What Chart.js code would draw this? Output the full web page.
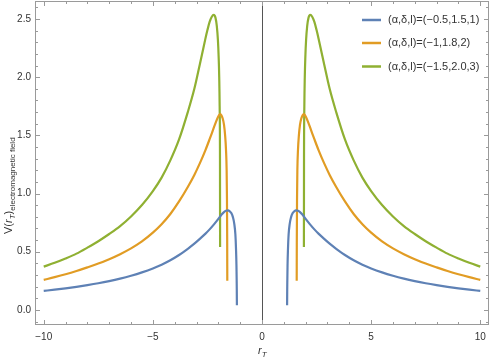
<!DOCTYPE html>
<html>
<head>
<meta charset="utf-8">
<script src="https://cdn.jsdelivr.net/npm/chart.js@4.4.0/dist/chart.umd.min.js"></script>
<style>
  html, body { margin: 0; padding: 0; background: #fff; }
  #graph { width: 491px; height: 360px; }
</style>
</head>
<body>
<div id="graph"><canvas id="grafico"></canvas></div>
<script>
// curvas (rama izquierda y rama derecha)
var xAzulIzq = [-10.0, -9.5, -9.0, -8.5, -8.0, -7.5, -7.0, -6.5, -6.0, -5.5, -5.0, -4.6, -4.2, -3.8, -3.4, -3.1, -2.85, -2.6, -2.4, -2.2, -2.0, -1.85, -1.73, -1.65, -1.56, -1.48, -1.40, -1.33, -1.27, -1.22, -1.19, -1.17, -1.16, -1.155, -1.15];
var yAzulIzq = [0.163, 0.1735, 0.185, 0.198, 0.2125, 0.2285, 0.247, 0.2685, 0.2935, 0.3225, 0.3565, 0.3885, 0.4265, 0.4715, 0.525, 0.569, 0.61, 0.653, 0.692, 0.735, 0.782, 0.82, 0.843, 0.853, 0.856, 0.848, 0.83, 0.795, 0.74, 0.65, 0.52, 0.38, 0.25, 0.17, 0.04];
var xAzulDer = [1.15, 1.155, 1.16, 1.17, 1.19, 1.22, 1.27, 1.33, 1.40, 1.48, 1.56, 1.65, 1.73, 1.85, 2.0, 2.2, 2.4, 2.6, 2.85, 3.1, 3.4, 3.8, 4.2, 4.6, 5.0, 5.5, 6.0, 6.5, 7.0, 7.5, 8.0, 8.5, 9.0, 9.5, 10.0];
var yAzulDer = [0.04, 0.17, 0.25, 0.38, 0.52, 0.65, 0.74, 0.795, 0.83, 0.848, 0.856, 0.853, 0.843, 0.82, 0.782, 0.735, 0.692, 0.653, 0.61, 0.569, 0.525, 0.4715, 0.4265, 0.3885, 0.3565, 0.3225, 0.2935, 0.2685, 0.247, 0.2285, 0.2125, 0.198, 0.185, 0.1735, 0.163];

var xNaranjaIzq = [-10.0, -9.5, -9.0, -8.5, -8.0, -7.5, -7.0, -6.5, -6.0, -5.5, -5.0, -4.6, -4.2, -3.8, -3.4, -3.1, -2.85, -2.6, -2.4, -2.3, -2.2, -2.1, -2.02, -1.96, -1.91, -1.86, -1.80, -1.74, -1.69, -1.65, -1.62, -1.605, -1.595, -1.59];
var yNaranjaIzq = [0.258, 0.281, 0.306, 0.334, 0.365, 0.398, 0.436, 0.479, 0.529, 0.589, 0.664, 0.736, 0.824, 0.932, 1.056, 1.16, 1.259, 1.369, 1.467, 1.518, 1.57, 1.62, 1.655, 1.675, 1.682, 1.672, 1.645, 1.59, 1.5, 1.38, 1.2, 0.95, 0.6, 0.25];
var xNaranjaDer = [1.59, 1.595, 1.605, 1.62, 1.65, 1.69, 1.74, 1.80, 1.86, 1.91, 1.96, 2.02, 2.1, 2.2, 2.3, 2.4, 2.6, 2.85, 3.1, 3.4, 3.8, 4.2, 4.6, 5.0, 5.5, 6.0, 6.5, 7.0, 7.5, 8.0, 8.5, 9.0, 9.5, 10.0];
var yNaranjaDer = [0.25, 0.6, 0.95, 1.2, 1.38, 1.5, 1.59, 1.645, 1.672, 1.682, 1.675, 1.655, 1.62, 1.57, 1.518, 1.467, 1.369, 1.259, 1.16, 1.056, 0.932, 0.824, 0.736, 0.664, 0.589, 0.529, 0.479, 0.436, 0.398, 0.365, 0.334, 0.306, 0.281, 0.258];

var xVerdeIzq = [-10.0, -9.5, -9.0, -8.5, -8.0, -7.5, -7.0, -6.5, -6.0, -5.5, -5.0, -4.6, -4.2, -3.8, -3.4, -3.1, -2.85, -2.75, -2.6, -2.5, -2.4, -2.3, -2.21, -2.13, -2.07, -2.02, -1.985, -1.96, -1.94, -1.925, -1.92];
var yVerdeIzq = [0.372, 0.405, 0.442, 0.4835, 0.535, 0.59, 0.652, 0.72, 0.803, 0.901, 1.021, 1.137, 1.285, 1.465, 1.70, 1.90, 2.11, 2.195, 2.325, 2.405, 2.475, 2.52, 2.535, 2.51, 2.44, 2.32, 2.17, 2.0, 1.75, 1.3, 0.54];
var xVerdeDer = [1.92, 1.925, 1.94, 1.96, 1.985, 2.02, 2.07, 2.13, 2.21, 2.3, 2.4, 2.5, 2.6, 2.75, 2.85, 3.1, 3.4, 3.8, 4.2, 4.6, 5.0, 5.5, 6.0, 6.5, 7.0, 7.5, 8.0, 8.5, 9.0, 9.5, 10.0];
var yVerdeDer = [0.54, 1.3, 1.75, 2.0, 2.17, 2.32, 2.44, 2.51, 2.535, 2.52, 2.475, 2.405, 2.325, 2.195, 2.11, 1.90, 1.70, 1.465, 1.285, 1.137, 1.021, 0.901, 0.803, 0.72, 0.652, 0.59, 0.535, 0.4835, 0.442, 0.405, 0.372];

var etiquetas = ['(\u03b1,\u03b4,l)=(\u22120.5,1.5,1)', '(\u03b1,\u03b4,l)=(\u22121,1.8,2)', '(\u03b1,\u03b4,l)=(\u22121.5,2.0,3)'];
var colores = ['#5E81B5', '#E19C24', '#8FB032'];
var xTicks = [-10, -5, 0, 5, 10];
var yTicks = [0.0, 0.5, 1.0, 1.5, 2.0, 2.5];

function puntos(xi, yi, xd, yd) {
  var d = [];
  for (var i = 0; i < xi.length; i++) d.push({x: xi[i], y: yi[i]});
  d.push({x: 0, y: null});
  for (var j = 0; j < xd.length; j++) d.push({x: xd[j], y: yd[j]});
  return d;
}

function serie(n, datos) {
  return {
    label: etiquetas[n],
    data: datos,
    borderColor: colores[n],
    backgroundColor: colores[n],
    borderWidth: 2.2,
    pointRadius: 0,
    fill: false,
    spanGaps: false,
    cubicInterpolationMode: 'monotone'
  };
}

function menos(v) {
  return v < 0 ? '\u2212' + Math.abs(v) : String(v);
}

// texto r_T con subindice
function textoR(ctx, x, y, tam) {
  ctx.font = 'italic ' + tam + 'px "Liberation Sans", Arial, sans-serif';
  ctx.fillText('r', x, y);
  x += ctx.measureText('r').width;
  ctx.font = 'italic ' + Math.round(tam * 0.72) + 'px "Liberation Sans", Arial, sans-serif';
  ctx.fillText('T', x, y + tam * 0.25);
  x += ctx.measureText('T').width;
  return x;
}

var marco = {
  id: 'marco',
  beforeDatasetsDraw: function(chart) {
    var ctx = chart.ctx, a = chart.chartArea;
    var sx = chart.scales.x, sy = chart.scales.y;
    ctx.save();
    // eje vertical en x = 0
    ctx.strokeStyle = '#555';
    ctx.lineWidth = 1;
    var x0 = Math.round(sx.getPixelForValue(0)) + 0.5;
    ctx.beginPath(); ctx.moveTo(x0, a.top); ctx.lineTo(x0, a.bottom); ctx.stroke();
    // marco y marcas
    ctx.strokeStyle = '#9a9a9a';
    ctx.strokeRect(a.left + 0.5, a.top + 0.5, a.right - a.left - 1, a.bottom - a.top - 1);
    ctx.beginPath();
    for (var v = -10; v <= 10; v++) {
      var px = Math.round(sx.getPixelForValue(v)) + 0.5;
      var l = (v % 5 === 0) ? 5 : 3;
      ctx.moveTo(px, a.bottom); ctx.lineTo(px, a.bottom - l);
      ctx.moveTo(px, a.top); ctx.lineTo(px, a.top + l);
    }
    for (var k = -1; k <= 26; k++) {
      var py = Math.round(sy.getPixelForValue(k / 10)) + 0.5;
      var m = (k % 5 === 0) ? 5 : 3;
      ctx.moveTo(a.left, py); ctx.lineTo(a.left + m, py);
      ctx.moveTo(a.right, py); ctx.lineTo(a.right - m, py);
    }
    ctx.stroke();
    ctx.restore();
  },
  afterDraw: function(chart) {
    var ctx = chart.ctx;
    ctx.save();
    // leyenda
    var filas = [20, 43, 66.5];
    ctx.textBaseline = 'middle';
    for (var i = 0; i < etiquetas.length; i++) {
      ctx.strokeStyle = colores[i];
      ctx.lineWidth = 2.5;
      ctx.beginPath(); ctx.moveTo(362, filas[i]); ctx.lineTo(381, filas[i]); ctx.stroke();
      ctx.fillStyle = '#333';
      ctx.font = '11px "Liberation Sans", Arial, sans-serif';
      ctx.fillText(etiquetas[i], 388, filas[i]);
    }
    // titulo eje x
    ctx.fillStyle = '#333';
    ctx.textBaseline = 'alphabetic';
    textoR(ctx, 258, 354, 11);
    // titulo eje y
    ctx.translate(12, 234);
    ctx.rotate(-Math.PI / 2);
    ctx.font = '11px "Liberation Sans", Arial, sans-serif';
    var x = 0;
    ctx.fillText('V(', x, 0); x += ctx.measureText('V(').width;
    x = textoR(ctx, x, 0, 11);
    ctx.font = '11px "Liberation Sans", Arial, sans-serif';
    ctx.fillText(')', x, 0); x += ctx.measureText(')').width;
    ctx.font = '8px "Liberation Sans", Arial, sans-serif';
    ctx.fillText('electromagnetic field', x, 3);
    ctx.restore();
  }
};

var contexto = document.getElementById('grafico').getContext('2d');
var chart = new Chart(contexto, {
  type: 'line',
  data: {
    datasets: [
      serie(0, puntos(xAzulIzq, yAzulIzq, xAzulDer, yAzulDer)),
      serie(1, puntos(xNaranjaIzq, yNaranjaIzq, xNaranjaDer, yNaranjaDer)),
      serie(2, puntos(xVerdeIzq, yVerdeIzq, xVerdeDer, yVerdeDer))
    ]
  },
  options: {
    responsive: true,
    maintainAspectRatio: false,
    animation: false,
    devicePixelRatio: 1,
    layout: { padding: { top: 1, right: 2, left: 0, bottom: 0 } },
    plugins: { legend: { display: false }, tooltip: { enabled: false } },
    scales: {
      x: {
        type: 'linear', min: -10.4, max: 10.4,
        grid: { display: false, drawTicks: false },
        border: { display: false },
        ticks: {
          autoSkip: false, maxRotation: 0, padding: 6, color: '#333',
          font: { size: 10, family: '"Liberation Sans", Arial, sans-serif' },
          callback: function(v) { return menos(v); }
        },
        afterBuildTicks: function(s) { s.ticks = xTicks.map(function(v) { return {value: v}; }); },
        afterFit: function(s) { s.height = 35; s.paddingLeft = 0; s.paddingRight = 0; }
      },
      y: {
        type: 'linear', min: -0.13, max: 2.655,
        grid: { display: false, drawTicks: false },
        border: { display: false },
        ticks: {
          autoSkip: false, padding: 4, color: '#333',
          font: { size: 10, family: '"Liberation Sans", Arial, sans-serif' },
          callback: function(v) { return v.toFixed(1); }
        },
        afterBuildTicks: function(s) { s.ticks = yTicks.map(function(v) { return {value: v}; }); },
        afterFit: function(s) { s.width = 35; s.paddingTop = 0; s.paddingBottom = 0; }
      }
    }
  },
  plugins: [marco]
});
</script>
</body>
</html>
